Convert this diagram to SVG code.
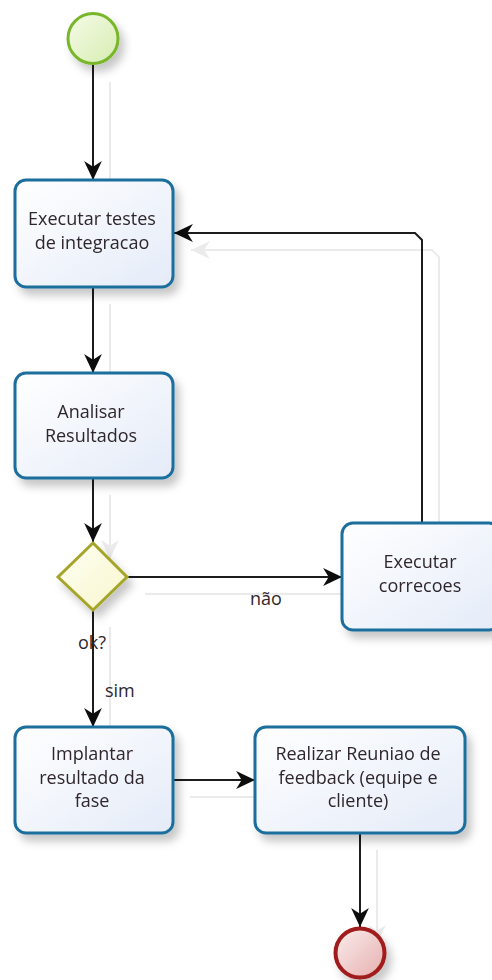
<svg xmlns="http://www.w3.org/2000/svg" width="492" height="980" viewBox="0 0 492 980">
  <defs>
    <style>
      .task rect { fill: url(#taskFill); stroke: #1c6e9c; stroke-width: 3; }
      .label { font-family: "Open Sans", "DejaVu Sans", sans-serif; font-size: 18px; fill: #2f262c; text-anchor: middle; }
      .edge-label { font-family: "Open Sans", "DejaVu Sans", sans-serif; font-size: 18px; fill: #2f262c; }
      .flow { fill: none; stroke: #1a1a1a; stroke-width: 2; marker-end: url(#arrow); }
    </style>
    <linearGradient id="taskFill" x1="0" y1="0" x2="1" y2="1">
      <stop offset="0" stop-color="#ffffff"/>
      <stop offset="1" stop-color="#e4ebf8"/>
    </linearGradient>
    <linearGradient id="startFill" x1="0" y1="0" x2="1" y2="1">
      <stop offset="0" stop-color="#f6fbe8"/>
      <stop offset="1" stop-color="#d6edb0"/>
    </linearGradient>
    <linearGradient id="endFill" x1="0" y1="0" x2="1" y2="1">
      <stop offset="0" stop-color="#fbeeee"/>
      <stop offset="1" stop-color="#e6aeae"/>
    </linearGradient>
    <linearGradient id="gatewayFill" x1="0" y1="0" x2="1" y2="1">
      <stop offset="0" stop-color="#fffff4"/>
      <stop offset="1" stop-color="#f8f6cc"/>
    </linearGradient>
    <filter id="nodeShadow" x="-20%" y="-20%" width="150%" height="150%">
      <feDropShadow dx="5" dy="7" stdDeviation="4" flood-color="#000" flood-opacity="0.22"/>
    </filter>
    <filter id="flowShadow" x="-10%" y="-10%" width="130%" height="130%">
      <feOffset in="SourceAlpha" dx="17" dy="17" result="off"/>
      <feComponentTransfer in="off" result="faint">
        <feFuncA type="linear" slope="0.08"/>
      </feComponentTransfer>
      <feMerge>
        <feMergeNode in="faint"/>
        <feMergeNode in="SourceGraphic"/>
      </feMerge>
    </filter>
    <marker id="arrow" markerUnits="userSpaceOnUse" markerWidth="20" markerHeight="20" viewBox="0 -9 18 18" refX="17" refY="0" orient="auto">
      <path d="M0,-8 L17,0 L0,8 L5,0 z" fill="#111"/>
    </marker>
  </defs>

  <rect width="492" height="980" fill="#ffffff"/>

  <!-- sequence flows -->
  <g id="connectors" filter="url(#flowShadow)">
    <path class="flow" d="M93,65 L93,180"/>
    <path class="flow" d="M93,287 L93,373"/>
    <path class="flow" d="M93,478 L93,542"/>
    <path class="flow" d="M128,577 L342,577"/>
    <path class="flow" d="M422,523 L422,240 L415,233 L174,233"/>
    <path class="flow" d="M93,610 L93,727"/>
    <path class="flow" d="M173,780 L255,780"/>
    <path class="flow" d="M360,833 L360,927"/>
  </g>

  <g id="start" filter="url(#nodeShadow)">
    <circle cx="93" cy="38.5" r="25" fill="url(#startFill)" stroke="#78b72c" stroke-width="3"/>
  </g>

  <g id="task-executar-testes" class="task" filter="url(#nodeShadow)">
    <rect x="15" y="180" width="158" height="107" rx="11"/>
    <text class="label" x="92" y="225">Executar testes</text>
    <text class="label" x="92" y="249">de integracao</text>
  </g>

  <g id="task-analisar" class="task" filter="url(#nodeShadow)">
    <rect x="15" y="373" width="158" height="105" rx="11"/>
    <text class="label" x="91" y="418">Analisar</text>
    <text class="label" x="91" y="442">Resultados</text>
  </g>

  <g id="gateway" filter="url(#nodeShadow)">
    <polygon points="93,543 127,577 93,610 58,577" fill="url(#gatewayFill)" stroke="#a5a52a" stroke-width="3"/>
  </g>

  <g id="task-correcoes" class="task" filter="url(#nodeShadow)">
    <rect x="342" y="523" width="158" height="107" rx="11"/>
    <text class="label" x="420" y="568">Executar</text>
    <text class="label" x="420" y="592">correcoes</text>
  </g>

  <g id="task-implantar" class="task" filter="url(#nodeShadow)">
    <rect x="15" y="727" width="158" height="106" rx="11"/>
    <text class="label" x="92" y="760">Implantar</text>
    <text class="label" x="92" y="784">resultado da</text>
    <text class="label" x="92" y="807">fase</text>
  </g>

  <g id="task-reuniao" class="task" filter="url(#nodeShadow)">
    <rect x="255" y="727" width="210" height="106" rx="11"/>
    <text class="label" x="358" y="760">Realizar Reuniao de</text>
    <text class="label" x="358" y="784">feedback (equipe e</text>
    <text class="label" x="358" y="807">cliente)</text>
  </g>

  <g id="end" filter="url(#nodeShadow)">
    <circle cx="360" cy="953" r="24.5" fill="url(#endFill)" stroke="#a11c1c" stroke-width="4"/>
  </g>

  <!-- flow labels -->
  <g id="flow-labels">
    <text class="edge-label" x="78" y="649">ok?</text>
    <text class="edge-label" x="105" y="697">sim</text>
    <text class="edge-label" x="250" y="605">não</text>
  </g>
</svg>
